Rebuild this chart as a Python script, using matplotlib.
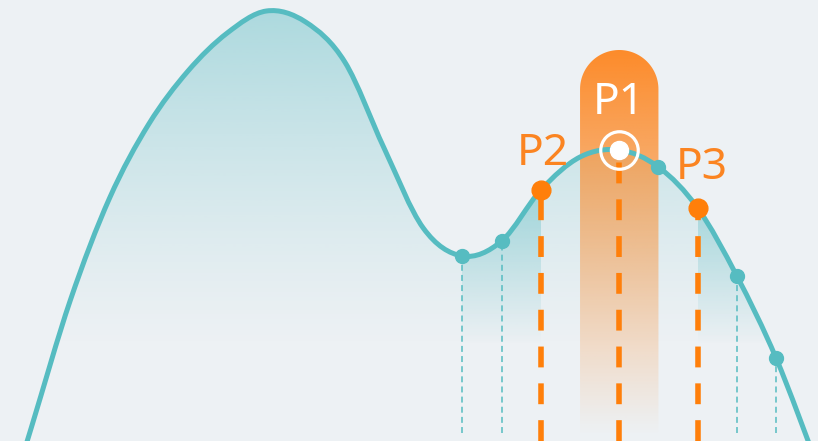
import numpy as np
import matplotlib
matplotlib.use('Agg')
import matplotlib.pyplot as plt
from matplotlib.path import Path
from matplotlib.patches import PathPatch

plt.rcParams['font.family'] = ['Noto Sans', 'DejaVu Sans']
plt.rcParams['lines.scale_dashes'] = False

# data (index -> value)
idx = list(range(22))
values = [-115, 13, 141, 243, 317, 370, 408, 430, 419, 379, 293,
          213, 185, 200, 251, 284, 291, 274, 233, 165, 83, -19]
teal_points = [12, 13, 17, 19, 20]
drop_points = [12, 13, 19, 20]
key_points = {'P1': 16, 'P2': 14, 'P3': 18}
band = (15, 17)
highlight_ranges = [(12, 14), (18, 21)]

bg = '#edf1f4'
teal = '#56bcc1'
orange = '#ff7f0a'
bar_orange = (253/255, 139/255, 42/255)
teal_rgb = (86/255, 186/255, 193/255)


def smooth_path(xs, ys, s=1/6):
	verts = [(xs[0], ys[0])]
	codes = [Path.MOVETO]
	n = len(xs)
	for i in range(n - 1):
		a = i - 1 if i > 0 else i
		d = i + 2 if i + 2 < n else i + 1
		c1 = (xs[i] + (xs[i+1] - xs[a]) * s, ys[i] + (ys[i+1] - ys[a]) * s)
		c2 = (xs[i+1] - (xs[d] - xs[i]) * s, ys[i+1] - (ys[d] - ys[i]) * s)
		verts += [c1, c2, (xs[i+1], ys[i+1])]
		codes += [Path.CURVE4] * 3
	return verts, codes


def vgradient(rgb, alphas):
	img = np.zeros((len(alphas), 1, 4))
	img[:, 0, :3] = rgb
	img[:, 0, 3] = alphas
	return img


fig = plt.figure(figsize=(8.18, 4.41), dpi=100, facecolor=bg)
ax = fig.add_axes([0, 0, 1, 1])
ax.set_facecolor(bg)
x0, x1 = 0.204, 21.07
ax.set_xlim(x0, x1)
ax.set_ylim(0, 441)
ax.axis('off')

verts, codes = smooth_path(idx, values)
area = Path(verts + [(idx[-1], -80), (idx[0], -80), (idx[0], values[0])],
            codes + [Path.LINETO, Path.LINETO, Path.CLOSEPOLY])
area_patch = PathPatch(area, fc='none', ec='none', transform=ax.transData)
ax.add_patch(area_patch)

# base area gradient
h = np.linspace(0, 441, 300)
im = ax.imshow(vgradient(teal_rgb, 0.42 * np.clip((h - 90) / 336, 0, 1) ** 1.3),
               extent=[x0, x1, 0, 441], origin='lower', aspect='auto', zorder=1)
im.set_clip_path(area_patch)

# stronger gradient outside the P2-P3 range
for a, b in highlight_ranges:
	im2 = ax.imshow(vgradient(teal_rgb, 0.42 * np.clip((h - 96) / 155, 0, 1)),
	                extent=[a, b, 0, 441], origin='lower', aspect='auto', zorder=1.1)
	im2.set_clip_path(area_patch)

# rounded highlight bar around P1
bx0, bx1 = band
btop, bbot = 391, 5
r = 39.2
cx = (bx0 + bx1) / 2
t = np.linspace(0, np.pi, 60)
cap = [(cx + np.cos(tt) * (bx1 - bx0) / 2, btop - r + np.sin(tt) * r) for tt in t]
bar_verts = [(bx1, bbot)] + cap + [(bx0, bbot), (bx1, bbot)]
bar_path = Path(bar_verts, [Path.MOVETO] + [Path.LINETO] * (len(bar_verts) - 2) + [Path.CLOSEPOLY])
bar_patch = PathPatch(bar_path, fc='none', ec='none', transform=ax.transData)
ax.add_patch(bar_patch)
hb = np.linspace(bbot, btop, 300)
im3 = ax.imshow(vgradient(bar_orange, np.clip((hb - bbot) / (btop - bbot), 0, 1) ** 1.05),
                extent=[bx0, bx1, bbot, btop], origin='lower', aspect='auto', zorder=2)
im3.set_clip_path(bar_patch)

# thin teal drop lines
for k in drop_points:
	ax.vlines(idx[k], 8, values[k], color=teal, lw=1.1, linestyle=(0, (4.3, 3)), zorder=2.5)

# orange drop lines
for name, k in key_points.items():
	ax.vlines(idx[k], 0, values[k], color=orange, lw=4, linestyle=(0, (15, 11.5)), zorder=3)

ax.add_patch(PathPatch(Path(verts, codes), fc='none', ec=teal, lw=3.6, zorder=4))

ax.plot([idx[k] for k in teal_points], [values[k] for k in teal_points], 'o',
        color=teal, ms=10, zorder=5)
for name in ['P2', 'P3']:
	k = key_points[name]
	ax.plot(idx[k], values[k], 'o', color=orange, ms=13.5, zorder=5)
k1 = key_points['P1']
ax.plot(idx[k1], values[k1], 'o', color='white', ms=13, zorder=6)
ax.plot(idx[k1], values[k1], 'o', mfc='none', mec='white', mew=2.3, ms=27, zorder=6)

ax.annotate('P1', (idx[k1], values[k1]), xytext=(0, 26), textcoords='offset points',
            ha='center', va='baseline', color='white', fontsize=32, zorder=7)
ax.annotate('P2', (idx[key_points['P2']], values[key_points['P2']]), xytext=(1.5, 18),
            textcoords='offset points', ha='center', va='baseline', color='#fb8421', fontsize=32, zorder=7)
ax.annotate('P3', (idx[key_points['P3']], values[key_points['P3']]), xytext=(3, 21),
            textcoords='offset points', ha='center', va='baseline', color='#fb8421', fontsize=32, zorder=7)

plt.savefig('out.png', dpi=100, facecolor=bg)
